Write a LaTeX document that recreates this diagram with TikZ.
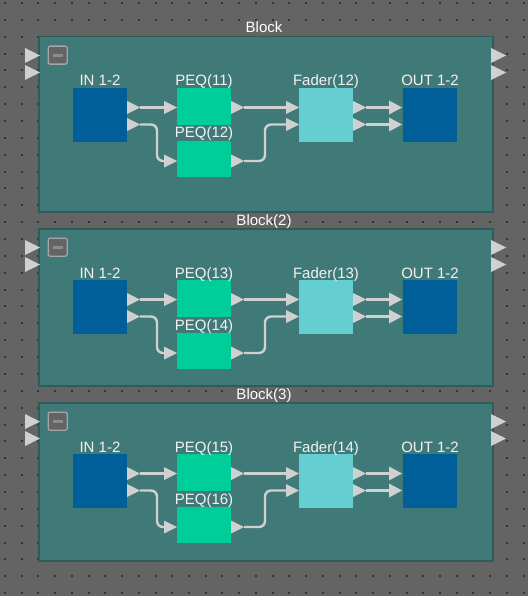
\documentclass[tikz,border=0pt]{standalone}
\usepackage{fontspec}
\setmainfont{Liberation Sans}
\usepackage{tikz}
\usetikzlibrary{shapes.geometric}

\definecolor{bggray}{RGB}{100,100,100}
\definecolor{dotgray}{RGB}{52,52,52}
\definecolor{blockteal}{RGB}{64,122,120}
\definecolor{blockedge}{RGB}{46,92,90}
\definecolor{iodark}{RGB}{0,94,152}
\definecolor{peqgreen}{RGB}{0,206,154}
\definecolor{fadercyan}{RGB}{100,206,208}
\definecolor{portgray}{RGB}{208,208,208}
\definecolor{labelwhite}{RGB}{242,242,242}
\definecolor{btnfill}{RGB}{100,100,100}
\definecolor{btnedge}{RGB}{165,165,165}
\definecolor{btnbar}{RGB}{140,140,140}

\begin{document}
\begin{tikzpicture}[x=1pt,y=-1pt]
		\tikzset{unit/.style={inner sep=0pt,outer sep=0pt,minimum width=54pt,anchor=north west},
			port/.style={isosceles triangle,isosceles triangle stretches,inner sep=0pt,outer sep=0pt,minimum width=13pt,minimum height=13pt,fill=portgray,anchor=west},
			bigport/.style={port,minimum width=15pt,minimum height=15pt},
			lbl/.style={text=labelwhite,font=\fontsize{15}{18}\selectfont,inner sep=0pt,anchor=base},
			wire/.style={draw=portgray,line width=2.4pt,rounded corners=6pt}}
		\useasboundingbox (0,0) rectangle (528,596);
		\fill[bggray] (0,0) rectangle (528,596);
		% grid
		\foreach \i in {0,...,31}
			\foreach \j in {0,...,35}
				\fill[dotgray] ({4+16.73*\i},{2+16.86*\j}) rectangle ++(2,2);
		\foreach \k/\dy/\hgt/\blkname/\pa/\pb/\fd in {1/0/175/Block/11/12/12,2/192/157/Block(2)/13/14/13,3/366/158/Block(3)/15/16/14}{
			% frame
			\node[draw=blockedge,line width=1.5pt,fill=blockteal,inner sep=0pt,minimum width=454pt,minimum height=\hgt pt,anchor=north west] (blk\k) at (38,{36+\dy}) {};
			\node[lbl,text=white] (ttl\k) at (264,{33+\dy}) {\blkname};
			\node[draw=btnedge,line width=1.3pt,fill=btnfill,rounded corners=2pt,inner sep=0pt,minimum width=19pt,minimum height=18pt,anchor=north west] (btn\k) at (47.5,{45.5+\dy}) {};
			\draw[btnbar,line width=3pt] ([xshift=5pt]btn\k.west) -- ([xshift=-5pt]btn\k.east);
			\node[bigport] (bia\k) at (25,{55.5+\dy}) {};
			\node[bigport] (bib\k) at (25,{72.5+\dy}) {};
			\node[bigport] (boa\k) at (491,{55.5+\dy}) {};
			\node[bigport] (bob\k) at (491,{72.5+\dy}) {};
			% units
			\node[unit,fill=iodark,minimum height=54pt] (in\k) at (73,{88+\dy}) {};
			\node[unit,fill=peqgreen,minimum height=37pt] (peqa\k) at (177,{88+\dy}) {};
			\node[unit,fill=peqgreen,minimum height=36pt] (peqb\k) at (177,{141+\dy}) {};
			\node[unit,fill=fadercyan,minimum height=54pt] (fd\k) at (299,{88+\dy}) {};
			\node[unit,fill=iodark,minimum height=54pt] (out\k) at (403,{88+\dy}) {};
			\node[lbl] (inl\k) at (100,{86+\dy}) {IN 1-2};
			\node[lbl] (peqal\k) at (204,{86+\dy}) {PEQ(\pa)};
			\node[lbl] (peqbl\k) at (204,{138+\dy}) {PEQ(\pb)};
			\node[lbl] (fdl\k) at (326,{86+\dy}) {Fader(\fd)};
			\node[lbl] (outl\k) at (430,{86+\dy}) {OUT 1-2};
			% ports
			\node[port] (inoa\k) at (127,{107.5+\dy}) {};
			\node[port] (inob\k) at (127,{124.5+\dy}) {};
			\node[port] (peqia\k) at (164,{107.5+\dy}) {};
			\node[port] (peqib\k) at (164,{161+\dy}) {};
			\node[port] (peqoa\k) at (231,{107.5+\dy}) {};
			\node[port] (peqob\k) at (231,{161+\dy}) {};
			\node[port] (fdia\k) at (286,{107.5+\dy}) {};
			\node[port] (fdib\k) at (286,{124.5+\dy}) {};
			\node[port] (fdoa\k) at (353,{107.5+\dy}) {};
			\node[port] (fdob\k) at (353,{124.5+\dy}) {};
			\node[port,minimum width=14pt] (outia\k) at (389,{107.5+\dy}) {};
			\node[port,minimum width=14pt] (outib\k) at (389,{124.5+\dy}) {};
			% wires
			\draw[wire] (inoa\k.east) -- (peqia\k.west);
			\draw[wire] (inob\k.east) -| ([xshift=-7pt]peqib\k.west) -- (peqib\k.west);
			\draw[wire] (peqoa\k.east) -- (fdia\k.west);
			\draw[wire] (peqob\k.east) -| ([xshift=-21pt]fdib\k.west) -- (fdib\k.west);
			\draw[wire] (fdoa\k.east) -- (outia\k.west);
			\draw[wire] (fdob\k.east) -- (outib\k.west);
		}
	\end{tikzpicture}
\end{document}
